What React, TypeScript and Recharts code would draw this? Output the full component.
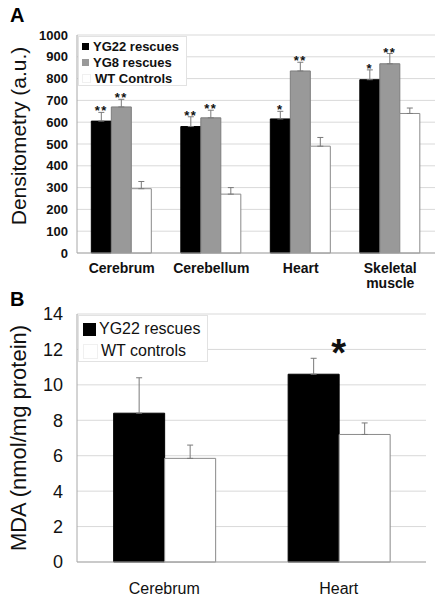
import React from 'react'
import {
  BarChart,
  Bar,
  XAxis,
  YAxis,
  CartesianGrid,
  ErrorBar,
  LabelList,
  ReferenceDot,
} from 'recharts'

// Panel A: densitometry
const organsA = ['Cerebrum', 'Cerebellum', 'Heart', 'Skeletal muscle']
const yg22A = [605, 580, 615, 795]
const yg22ErrA = [40, 45, 35, 45]
const yg8A = [670, 620, 835, 868]
const yg8ErrA = [35, 35, 40, 47]
const wtA = [295, 270, 490, 640]
const wtErrA = [33, 30, 40, 25]
const yg22StarsA = ['**', '**', '*', '*']
const yg8StarsA = ['**', '**', '**', '**']
const ticksA = [0, 100, 200, 300, 400, 500, 600, 700, 800, 900, 1000]

// Panel B: MDA
const organsB = ['Cerebrum', 'Heart']
const yg22B = [8.4, 10.6]
const yg22ErrB = [2.0, 0.9]
const wtB = [5.85, 7.2]
const wtErrB = [0.75, 0.65]
const ticksB = [0, 2, 4, 6, 8, 10, 12, 14]

const FONT = '"Liberation Sans", Arial, Helvetica, sans-serif'
const GRID = '#d9d9d9'
const AXIS = '#a8a8a8'
const ERR = '#7a7a7a'

const dataA = organsA.map((organ, i) => ({
  organ,
  yg22: yg22A[i],
  yg22Err: [0, yg22ErrA[i]],
  yg22Star: `${yg22StarsA[i]}|${yg22ErrA[i] / yg22A[i]}`,
  yg8: yg8A[i],
  yg8Err: [0, yg8ErrA[i]],
  yg8Star: `${yg8StarsA[i]}|${yg8ErrA[i] / yg8A[i]}`,
  wt: wtA[i],
  wtErr: [0, wtErrA[i]],
}))

const dataB = organsB.map((organ, i) => ({
  organ,
  yg22: yg22B[i],
  yg22Err: [0, yg22ErrB[i]],
  wt: wtB[i],
  wtErr: [0, wtErrB[i]],
}))

// star sits just above the error whisker: err/value ratio scaled by bar height
const StarLabel = (props: any) => {
  const vb = props.viewBox ?? props
  const { x, y, width, height } = vb
  const [stars, ratio] = String(props.value).split('|')
  if (!stars) return null
  const top = y - Number(ratio) * Math.abs(height)
  return (
    <text x={x + width / 2} y={top + 3} textAnchor="middle" fontFamily={FONT} fontSize={13} fontWeight="bold" letterSpacing={1.5} fill="#111">
      {stars}
    </text>
  )
}

const TickA = (props: any) => {
  const { x, y, payload } = props
  const words = String(payload.value).split(' ')
  return (
    <text x={x} y={y} textAnchor="middle" fontFamily={FONT} fontSize={14} fontWeight="bold" fill="#111">
      {words.map((w, i) => (
        <tspan key={w} x={x} dy={i === 0 ? 12 : 15}>
          {w}
        </tspan>
      ))}
    </text>
  )
}

const LegendA = () => {
  const items = [
    { label: 'YG22 rescues', fill: '#000' },
    { label: 'YG8 rescues', fill: '#999' },
    { label: 'WT Controls', fill: '#fff' },
  ]
  return (
    <div style={{ position: 'absolute', left: 78, top: 36, width: 109, height: 50, background: '#fff', border: '1px solid #e2e2e2', boxSizing: 'border-box', paddingTop: 1 }}>
      {items.map((it) => (
        <div key={it.label} style={{ display: 'flex', alignItems: 'center', height: 16, fontFamily: FONT, fontSize: 13, fontWeight: 'bold', color: '#111', whiteSpace: 'nowrap' }}>
          <span style={{ width: 7, height: 7, background: it.fill, border: it.fill === '#fff' ? '1px solid #f0f0f0' : 'none', marginLeft: 3, marginRight: 4 }} />
          {it.label}
        </div>
      ))}
    </div>
  )
}

const LegendB = () => {
  const items = [
    { label: 'YG22 rescues', fill: '#000' },
    { label: 'WT controls', fill: '#fff' },
  ]
  return (
    <div style={{ position: 'absolute', left: 78, top: 315, width: 130, height: 47, background: '#fff', border: '1px solid #e2e2e2', boxSizing: 'border-box', paddingTop: 2 }}>
      {items.map((it) => (
        <div key={it.label} style={{ display: 'flex', alignItems: 'center', height: 22, fontFamily: FONT, fontSize: 16, color: '#111', whiteSpace: 'nowrap' }}>
          <span style={{ width: 13, height: 13, background: it.fill, border: it.fill === '#fff' ? '1px solid #f0f0f0' : 'none', marginLeft: 4, marginRight: 3 }} />
          {it.label}
        </div>
      ))}
    </div>
  )
}

const yLabel = (text: string, size: number, cx: number, shift: number) => (props: any) => {
  const vb = props.viewBox
  const cy = vb.y + vb.height / 2 + shift
  return (
    <text x={cx} y={cy} transform={`rotate(-90 ${cx} ${cy})`} textAnchor="middle" dominantBaseline="central" fontFamily={FONT} fontSize={size} fill="#111">
      {text}
    </text>
  )
}

export default function App() {
  return (
    <div style={{ position: 'absolute', left: 0, top: 0, width: 442, height: 599, background: '#fff', fontFamily: FONT }}>
      <div style={{ position: 'absolute', left: 10, top: 4, fontSize: 20, fontWeight: 'bold' }}>A</div>
      <div style={{ position: 'absolute', left: 0, top: 0 }}>
        <BarChart width={442} height={295} data={dataA} margin={{ top: 35, right: 7, bottom: 2, left: 0 }} barCategoryGap="16%" barGap={0}>
          <CartesianGrid vertical={false} stroke={GRID} />
          <XAxis dataKey="organ" tick={<TickA />} tickLine={false} axisLine={{ stroke: AXIS }} height={40} interval={0} />
          <YAxis
            domain={[0, 1000]}
            ticks={ticksA}
            interval={0}
            width={77}
            tickLine={false}
            tickSize={6}
            tickMargin={3}
            axisLine={{ stroke: AXIS }}
            tick={{ fontFamily: FONT, fontSize: 13, fontWeight: 'bold', fill: '#111' }}
            label={{ content: yLabel('Densitometry (a.u.)', 21, 18, -8) }}
          />
          <YAxis yAxisId="r" orientation="right" width={0} domain={[0, 1000]} tick={false} tickLine={false} axisLine={{ stroke: AXIS }} />
          <Bar dataKey="yg22" fill="#000" stroke="#000" isAnimationActive={false}>
            <ErrorBar dataKey="yg22Err" width={3} stroke={ERR} strokeWidth={1} direction="y" />
            <LabelList dataKey="yg22Star" content={<StarLabel />} />
          </Bar>
          <Bar dataKey="yg8" fill="#999" stroke="#7d7d7d" isAnimationActive={false}>
            <ErrorBar dataKey="yg8Err" width={3} stroke={ERR} strokeWidth={1} direction="y" />
            <LabelList dataKey="yg8Star" content={<StarLabel />} />
          </Bar>
          <Bar dataKey="wt" fill="#fff" stroke="#8a8a8a" isAnimationActive={false}>
            <ErrorBar dataKey="wtErr" width={3} stroke={ERR} strokeWidth={1} direction="y" />
          </Bar>
        </BarChart>
      </div>
      <LegendA />

      <div style={{ position: 'absolute', left: 10, top: 288, fontSize: 20, fontWeight: 'bold' }}>B</div>
      <div style={{ position: 'absolute', left: 0, top: 295 }}>
        <BarChart width={442} height={304} data={dataB} margin={{ top: 19, right: 16, bottom: 7, left: 0 }} barCategoryGap="21%" barGap={0}>
          <CartesianGrid vertical={false} stroke={GRID} />
          <XAxis dataKey="organ" tickLine={false} axisLine={{ stroke: AXIS }} height={30} interval={0} tickMargin={15} tick={{ fontFamily: FONT, fontSize: 16, fill: '#111' }} />
          <YAxis
            domain={[0, 14]}
            ticks={ticksB}
            interval={0}
            width={77}
            tickLine={false}
            tickSize={6}
            tickMargin={8}
            axisLine={{ stroke: AXIS }}
            tick={{ fontFamily: FONT, fontSize: 18, fill: '#111' }}
            label={{ content: yLabel('MDA (nmol/mg protein)', 22, 18, 0) }}
          />
          <YAxis yAxisId="r" orientation="right" width={0} domain={[0, 14]} tick={false} tickLine={false} axisLine={{ stroke: AXIS }} />
          <Bar dataKey="yg22" fill="#000" stroke="#000" isAnimationActive={false}>
            <ErrorBar dataKey="yg22Err" width={3} stroke={ERR} strokeWidth={1} direction="y" />
          </Bar>
          <Bar dataKey="wt" fill="#fff" stroke="#8a8a8a" isAnimationActive={false}>
            <ErrorBar dataKey="wtErr" width={3} stroke={ERR} strokeWidth={1} direction="y" />
          </Bar>
          <ReferenceDot
            x="Heart"
            y={yg22B[1] + yg22ErrB[1]}
            r={0}
            shape={(p: any) => (
              <text x={p.cx} y={p.cy + 8} textAnchor="middle" fontFamily={FONT} fontSize={38} fontWeight="bold" fill="#111">
                *
              </text>
            )}
          />
        </BarChart>
      </div>
      <LegendB />
    </div>
  )
}
